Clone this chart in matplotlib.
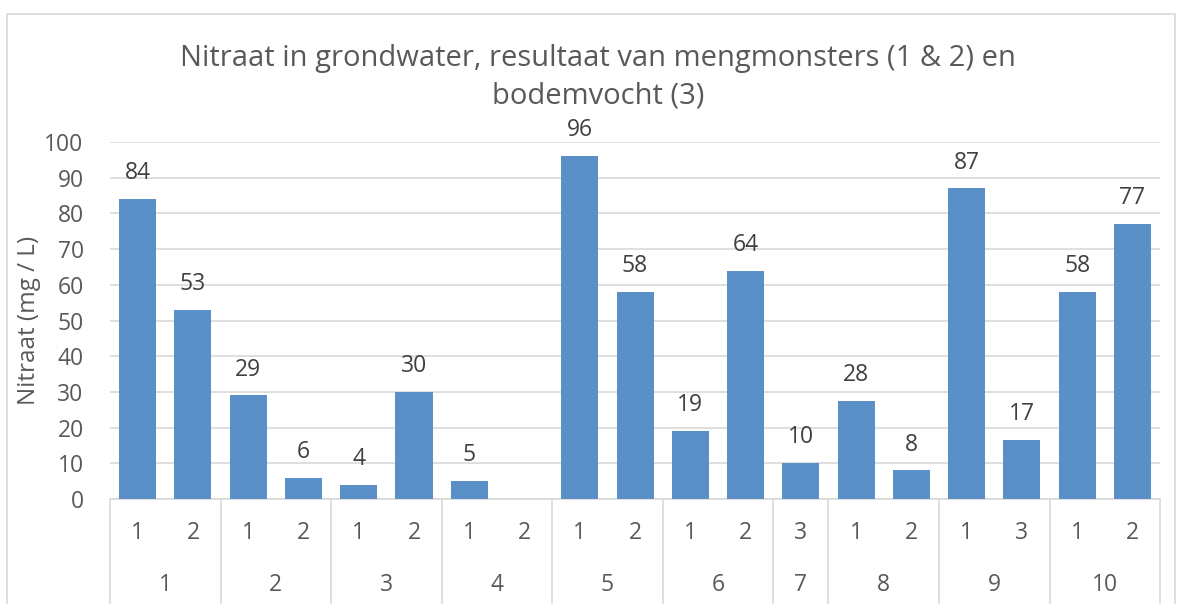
import matplotlib.pyplot as plt
from matplotlib.patches import Rectangle

plt.rcParams['font.family'] = ['Open Sans', 'DejaVu Sans']

# data
groups = ['1', '2', '3', '4', '5', '6', '7', '8', '9', '10']
sub_labels = [['1', '2'], ['1', '2'], ['1', '2'], ['1', '2'], ['1', '2'],
              ['1', '2'], ['3'], ['1', '2'], ['1', '3'], ['1', '2']]
values = [[84, 53], [29, 6], [4, 30], [5, None], [96, 58],
          [19, 64], [10], [27.5, 8], [87, 16.5], [58, 77]]
shown = [['84', '53'], ['29', '6'], ['4', '30'], ['5', ''], ['96', '58'],
         ['19', '64'], ['10'], ['28', '8'], ['87', '17'], ['58', '77']]

txt = '#595959'
blue = '#5b8fc7'
grid = '#d9d9d9'
fs = 16.5

fig = plt.figure(figsize=(11.77, 6.04), dpi=100)
ax = fig.add_axes([0.0935, 0.1738, 0.8921, 0.5911])

# chart frame
fig.patches.append(Rectangle((7 / 1177, -0.01), 1168 / 1177, 1 - 14 / 604 + 0.01,
                             transform=fig.transFigure, fill=False,
                             edgecolor=grid, lw=1.2))

pos = 0
bounds = [-0.5]
group_centers = []
for g, subs, vals, labs in zip(groups, sub_labels, values, shown):
    start = pos
    for s, v, lab in zip(subs, vals, labs):
        if v is not None:
            ax.bar(pos, v, width=0.67, color=blue, zorder=3)
            ax.annotate(lab, (pos, v), xytext=(0, 10), textcoords='offset points',
                        ha='center', va='bottom', fontsize=fs, color='#404040')
        ax.text(pos, -0.095, s, transform=ax.get_xaxis_transform(),
                ha='center', va='center', fontsize=fs, color=txt)
        pos += 1
    group_centers.append((start + pos - 1) / 2)
    bounds.append(pos - 0.5)

for c, g in zip(group_centers, groups):
    ax.text(c, -0.24, g, transform=ax.get_xaxis_transform(),
            ha='center', va='center', fontsize=fs, color=txt)

for b in bounds:
    ax.plot([b, b], [0, -0.3], transform=ax.get_xaxis_transform(),
            color=grid, lw=1.2, clip_on=False)

ax.set_xlim(-0.5, pos - 0.5)
ax.set_ylim(0, 100)
ax.set_yticks(range(0, 101, 10))
ax.set_xticks([])
ax.tick_params(axis='y', length=0, labelsize=fs, labelcolor=txt, pad=19)
ax.yaxis.grid(True, color=grid, lw=1.2, zorder=0)
for side in ['top', 'right', 'left']:
    ax.spines[side].set_visible(False)
ax.spines['bottom'].set_color(grid)
ax.spines['bottom'].set_linewidth(1.2)

ax.set_ylabel('Nitraat (mg / L)', fontsize=17.5, color=txt)
ax.yaxis.set_label_coords(-0.066, 0.5)
fig.text(0.508, 0.872, 'Nitraat in grondwater, resultaat van mengmonsters (1 & 2) en\nbodemvocht (3)',
         ha='center', va='center', fontsize=21, color=txt, linespacing=1.4)

fig.savefig('out.png', dpi=100)
